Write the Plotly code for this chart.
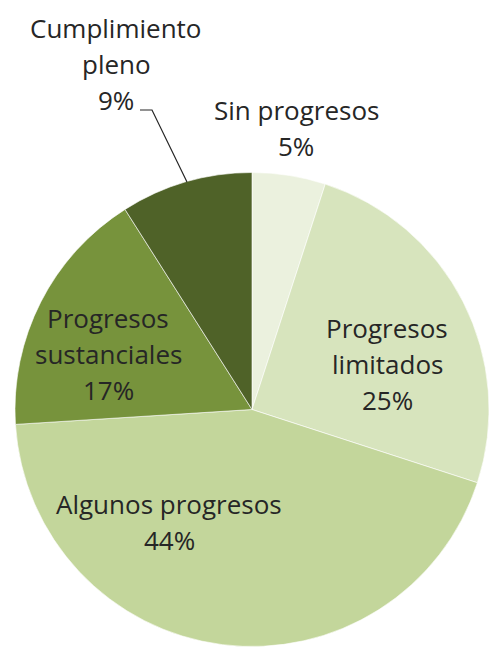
import plotly.graph_objects as go

labels = ["Sin progresos", "Progresos limitados", "Algunos progresos",
          "Progresos sustanciales", "Cumplimiento pleno"]
label_lines = [["Sin progresos"], ["Progresos", "limitados"], ["Algunos progresos"],
               ["Progresos", "sustanciales"], ["Cumplimiento", "pleno"]]
values = [5, 25, 44, 17, 9]
colors = ["#EBF1DE", "#D7E4BD", "#C3D69B", "#77933C", "#4F6228"]

W, H = 489, 647

# pie: centre (253, 410) px, radius ~238 px
fig = go.Figure(go.Pie(
    labels=labels, values=values, sort=False, direction="clockwise", rotation=0,
    marker=dict(colors=colors, line=dict(color="white", width=0.6)),
    textinfo="none", hoverinfo="label+percent", showlegend=False,
    domain=dict(x=[15 / W, 1.0], y=[0.0, 475 / H]),
))

# label block centres (pixels from top-left) and line pitch
label_pos = [(296, 128), (387, 364), (169, 522), (108, 354), (116, 64)]
pitch = 36
total = sum(values)
for lines, v, (px, py) in zip(label_lines, values, label_pos):
    all_lines = lines + [f"{round(100 * v / total)}%"]
    n = len(all_lines)
    for i, t in enumerate(all_lines):
        yy = py + (i - (n - 1) / 2) * pitch
        fig.add_annotation(
            x=px / W, y=1 - yy / H, xref="paper", yref="paper",
            text=t, showarrow=False,
            font=dict(family="Open Sans", size=26, color="#262626"),
            align="center", xanchor="center", yanchor="middle",
        )

# leader line for "Cumplimiento pleno"
pts = [(140, 110), (152, 110), (187, 182)]
path = "M " + " L ".join(f"{x / W},{1 - y / H}" for x, y in pts)
fig.add_shape(type="path", path=path, xref="paper", yref="paper",
              line=dict(color="#262626", width=1.2))

fig.update_layout(width=W, height=H, margin=dict(l=0, r=0, t=0, b=0),
                  paper_bgcolor="white", plot_bgcolor="white")
fig.write_html("out.html", config={"displayModeBar": False},
               post_script="document.body.style.margin='0';")
